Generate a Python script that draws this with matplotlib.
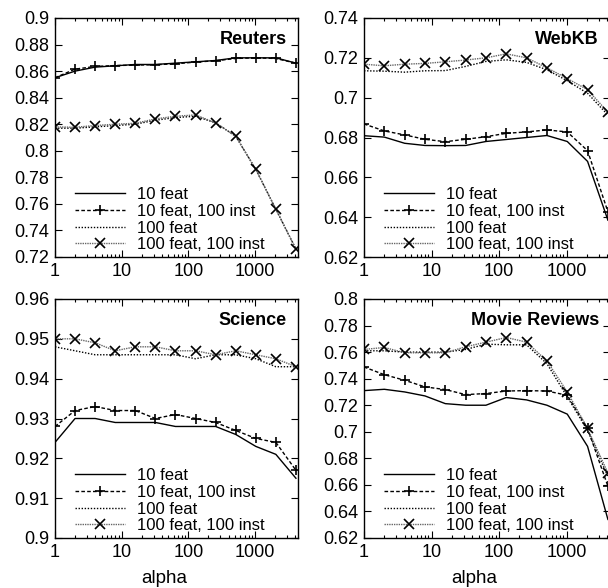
import matplotlib
matplotlib.use("Agg")
import matplotlib.pyplot as plt
from matplotlib.ticker import FormatStrFormatter, FixedLocator, LogLocator, NullFormatter

plt.rcParams['font.family'] = ['Liberation Sans', 'DejaVu Sans']

alpha = [1, 2, 4, 8, 16, 32, 64, 128, 256, 512, 1024, 2048, 4096]
labels = ['10 feat', '10 feat, 100 inst', '100 feat', '100 feat, 100 inst']

# Reuters
reu_10 = [0.855, 0.860, 0.863, 0.864, 0.865, 0.865, 0.866, 0.867, 0.868, 0.870, 0.870, 0.870, 0.866]
reu_10i = [0.855, 0.8615, 0.8635, 0.8642, 0.8645, 0.8648, 0.8655, 0.8668, 0.8678, 0.8695, 0.870, 0.8695, 0.866]
reu_100 = [0.817, 0.817, 0.818, 0.819, 0.820, 0.823, 0.825, 0.826, 0.821, 0.811, 0.786, 0.756, 0.726]
reu_100i = [0.818, 0.8177, 0.819, 0.820, 0.8207, 0.824, 0.826, 0.827, 0.821, 0.811, 0.786, 0.756, 0.726]

# WebKB
web_10 = [0.6809, 0.6802, 0.6771, 0.676, 0.6759, 0.676, 0.678, 0.679, 0.680, 0.681, 0.678, 0.668, 0.6385]
web_10i = [0.6868, 0.6833, 0.6813, 0.6791, 0.6779, 0.6791, 0.6804, 0.6821, 0.6828, 0.6838, 0.6828, 0.6734, 0.6427]
web_100 = [0.7135, 0.7133, 0.7128, 0.7135, 0.7136, 0.7157, 0.7182, 0.719, 0.7177, 0.714, 0.7085, 0.7022, 0.6913]
web_100i = [0.7168, 0.716, 0.7168, 0.7172, 0.718, 0.7189, 0.720, 0.722, 0.720, 0.715, 0.7096, 0.704, 0.6927]

# Science
sci_10 = [0.924, 0.930, 0.930, 0.929, 0.929, 0.929, 0.928, 0.928, 0.928, 0.926, 0.923, 0.921, 0.915]
sci_10i = [0.928, 0.932, 0.933, 0.932, 0.932, 0.930, 0.931, 0.930, 0.929, 0.927, 0.925, 0.924, 0.917]
sci_100 = [0.948, 0.947, 0.946, 0.946, 0.946, 0.946, 0.946, 0.945, 0.946, 0.946, 0.945, 0.943, 0.943]
sci_100i = [0.950, 0.950, 0.949, 0.947, 0.948, 0.948, 0.947, 0.947, 0.946, 0.947, 0.946, 0.945, 0.943]

# Movie Reviews
mov_10 = [0.731, 0.732, 0.730, 0.727, 0.7212, 0.720, 0.720, 0.7258, 0.724, 0.720, 0.7133, 0.689, 0.634]
mov_10i = [0.7488, 0.743, 0.7388, 0.7338, 0.7318, 0.728, 0.7288, 0.7307, 0.731, 0.7307, 0.7275, 0.7025, 0.659]
mov_100 = [0.761, 0.761, 0.760, 0.760, 0.760, 0.762, 0.766, 0.7655, 0.7655, 0.7513, 0.7263, 0.701, 0.6663]
mov_100i = [0.762, 0.7635, 0.7595, 0.7595, 0.7595, 0.764, 0.7675, 0.771, 0.7675, 0.7533, 0.730, 0.7025, 0.669]

W, H = 608.0, 588.0
fig = plt.figure(figsize=(W / 100, H / 100), dpi=100)


def panel(rect, title, series, ylim, ystep, xlabel=False):
    ax = fig.add_axes([rect[0] / W, 1 - (rect[1] + rect[3]) / H, rect[2] / W, rect[3] / H])
    s10, s10i, s100, s100i = series
    ax.plot(alpha, s10, color='black', lw=1.0, label=labels[0])
    ax.plot(alpha, s10i, color='black', lw=1.0, ls=(0, (2.6, 1.6)), marker='+',
            ms=7.5, mew=1.2, label=labels[1])
    ax.plot(alpha, s100, color='black', lw=1.0, ls=(0, (1, 1.2)), label=labels[2])
    ax.plot(alpha, s100i, color='0.4', lw=1.0, ls=(0, (1, 0.7)), marker='x',
            ms=6.5, mew=1.2, mec='black', label=labels[3])
    ax.set_xscale('log')
    ax.set_xlim(1, 4400)
    ax.set_ylim(*ylim)
    n = int(round((ylim[1] - ylim[0]) / ystep))
    ax.yaxis.set_major_locator(FixedLocator([ylim[0] + i * ystep for i in range(n + 1)]))
    ax.yaxis.set_major_formatter(FormatStrFormatter('%g'))
    ax.xaxis.set_major_locator(FixedLocator([1, 10, 100, 1000]))
    ax.xaxis.set_major_formatter(FormatStrFormatter('%g'))
    ax.xaxis.set_minor_locator(LogLocator(base=10, subs=range(2, 10)))
    ax.xaxis.set_minor_formatter(NullFormatter())
    ax.tick_params(which='both', direction='in', top=True, right=True, width=0.8)
    ax.tick_params(which='major', length=5, labelsize=13, pad=4)
    ax.tick_params(which='minor', length=2.5)
    for sp in ax.spines.values():
        sp.set_linewidth(1.0)
    ax.text(0.955, 0.91, title, transform=ax.transAxes, ha='right', va='center',
            fontsize=13, fontweight='bold')
    ax.legend(loc='lower left', bbox_to_anchor=(0.082, 0.02), frameon=False,
              borderpad=0, borderaxespad=0, fontsize=12, handlelength=3.0,
              handletextpad=0.7, labelspacing=0.1)
    if xlabel:
        ax.set_xlabel('alpha', fontsize=13.5)
        ax.xaxis.set_label_coords(0.45, -0.135)
    return ax


panel((55, 18, 243, 239), 'Reuters', (reu_10, reu_10i, reu_100, reu_100i), (0.72, 0.9), 0.02)
panel((364, 18, 246, 239), 'WebKB', (web_10, web_10i, web_100, web_100i), (0.62, 0.74), 0.02)
panel((55, 299, 243, 239), 'Science', (sci_10, sci_10i, sci_100, sci_100i), (0.9, 0.96), 0.01, True)
panel((364, 299, 246, 239), 'Movie Reviews', (mov_10, mov_10i, mov_100, mov_100i), (0.62, 0.8), 0.02, True)

fig.savefig('out.png', dpi=100)
